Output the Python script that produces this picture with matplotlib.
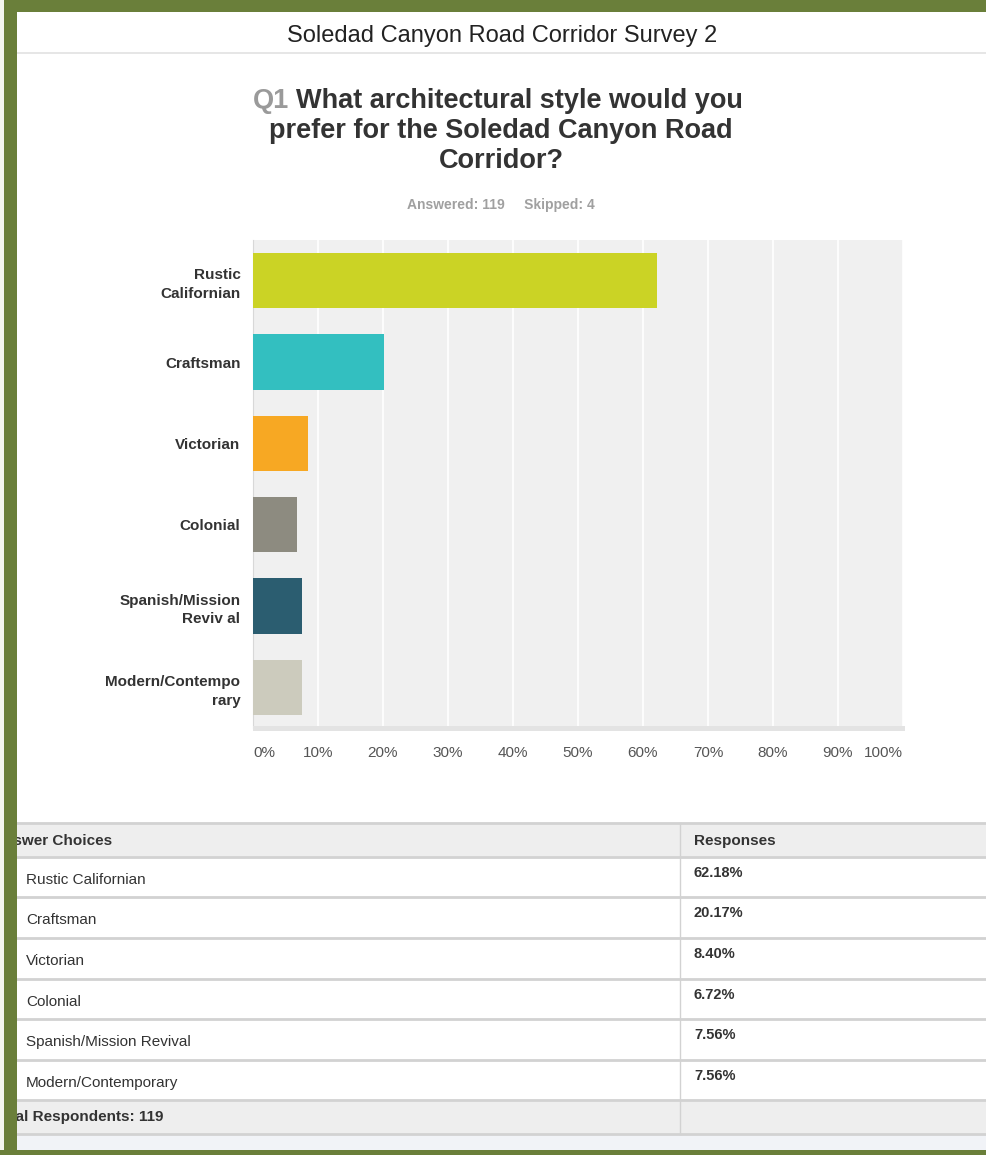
import matplotlib.pyplot as plt
from matplotlib.patches import Rectangle

plt.rcParams['font.family'] = ['Liberation Sans', 'DejaVu Sans']

# data
choices = ['Rustic Californian', 'Craftsman', 'Victorian', 'Colonial',
           'Spanish/Mission Revival', 'Modern/Contemporary']
axis_labels = ['Rustic\nCalifornian', 'Craftsman', 'Victorian', 'Colonial',
               'Spanish/Mission\nReviv al', 'Modern/Contempo\nrary']
percents = [62.18, 20.17, 8.40, 6.72, 7.56, 7.56]
bar_colors = ['#cbd325', '#33bfc0', '#f7a823', '#8d8b80', '#2b5d70', '#cccbbd']
ticks = [0, 10, 20, 30, 40, 50, 60, 70, 80, 90, 100]
answered = 119
skipped = 4

W, H = 987, 1155
fig = plt.figure(figsize=(W / 100, H / 100), dpi=100)
fig.patch.set_facecolor('white')


def fx(px):
    return px / W


def fy(py):
    return 1 - py / H


# bar chart
ax = fig.add_axes([fx(253), fy(728), fx(650), 488 / H])
ax.set_facecolor('#f0f0f0')
ypos = list(range(len(choices)))
ax.barh(ypos, percents, height=0.68, color=bar_colors, zorder=3)
ax.set_ylim(len(choices) - 0.5, -0.5)
ax.set_xlim(0, 100)
ax.set_xticks(ticks)
ax.set_xticklabels(['%d%%' % t for t in ticks], fontsize=11, color='#555555')
labs = ax.get_xticklabels()
labs[0].set_horizontalalignment('left')
labs[-1].set_horizontalalignment('right')
ax.set_yticks(ypos)
ax.set_yticklabels(axis_labels, fontsize=11, fontweight='bold', color='#333333', linespacing=1.45)
ax.tick_params(axis='both', length=0)
ax.tick_params(axis='x', pad=13)
ax.tick_params(axis='y', pad=9)
ax.grid(axis='x', color='white', linewidth=1.2, zorder=1)
for s in ['top', 'right', 'bottom']:
    ax.spines[s].set_visible(False)
ax.spines['left'].set_color('#d8d8d8')
fig.add_artist(Rectangle((fx(253), fy(731)), fx(652), 5 / H, transform=fig.transFigure,
                         facecolor='#e3e3e3', edgecolor='none'))

# header
fig.text(fx(502), fy(36), 'Soledad Canyon Road Corridor Survey 2', ha='center', va='center',
         fontsize=17, color='#222222')
fig.add_artist(Rectangle((fx(17), fy(54)), fx(970), 2 / H, transform=fig.transFigure,
                         facecolor='#e6e6e6', edgecolor='none'))

# question title
tsize = 19.5
q1 = fig.text(fx(253), fy(101), 'Q1', ha='left', va='center', fontsize=tsize,
              fontweight='bold', color='#9a9a9a')
ax.annotate('What architectural style would you', xy=(1, 0.5), xycoords=q1,
            xytext=(5, 0), textcoords='offset points', ha='left', va='center',
            fontsize=tsize, fontweight='bold', color='#333333', annotation_clip=False)
fig.text(fx(501), fy(131), 'prefer for the Soledad Canyon Road', ha='center', va='center',
         fontsize=tsize, fontweight='bold', color='#333333')
fig.text(fx(501), fy(161), 'Corridor?', ha='center', va='center',
         fontsize=tsize, fontweight='bold', color='#333333')
fig.text(fx(501), fy(205), 'Answered: %d     Skipped: %d' % (answered, skipped), ha='center',
         va='center', fontsize=10, fontweight='bold', color='#a0a0a0')

# table
tab_left, tab_right, col_x = 17, 987, 680
row_tops = [823, 857, 897, 938, 979, 1019, 1060, 1100, 1134]
line_c = '#d2d2d2'
fig.add_artist(Rectangle((fx(tab_left), fy(857)), fx(tab_right - tab_left), 34 / H,
                         transform=fig.transFigure, facecolor='#eeeeee', edgecolor='none'))
fig.add_artist(Rectangle((fx(tab_left), fy(1134)), fx(tab_right - tab_left), 34 / H,
                         transform=fig.transFigure, facecolor='#eeeeee', edgecolor='none'))
fig.add_artist(Rectangle((fx(tab_left), fy(1150)), fx(tab_right - tab_left), 16 / H,
                         transform=fig.transFigure, facecolor='#f1f3f7', edgecolor='none'))
for yt in row_tops:
    fig.add_artist(plt.Line2D([fx(tab_left), fx(tab_right)], [fy(yt), fy(yt)],
                              transform=fig.transFigure, color=line_c, linewidth=2))
fig.add_artist(plt.Line2D([fx(col_x), fx(col_x)], [fy(823), fy(1134)],
                          transform=fig.transFigure, color=line_c, linewidth=1))

fig.text(fx(-7), fy(841), 'Answer Choices', ha='left', va='center', fontsize=11,
         fontweight='bold', color='#333333')
fig.text(fx(694), fy(841), 'Responses', ha='left', va='center', fontsize=11,
         fontweight='bold', color='#333333')
for i, (name, p) in enumerate(zip(choices, percents)):
    top = row_tops[i + 1]
    fig.text(fx(26), fy(top + 23), name, ha='left', va='center', fontsize=11, color='#333333')
    fig.text(fx(694), fy(top + 16), '%.2f%%' % p, ha='left', va='center', fontsize=10.5,
             fontweight='bold', color='#333333')
fig.text(fx(-7), fy(1117), 'Total Respondents: %d' % answered, ha='left', va='center',
         fontsize=11, fontweight='bold', color='#333333')

# green frame
green = '#6a7f3a'
fig.add_artist(Rectangle((0, fy(12)), 1, 12 / H, transform=fig.transFigure,
                         facecolor=green, edgecolor='none', zorder=10))
fig.add_artist(Rectangle((fx(4), 0), fx(13), 1, transform=fig.transFigure,
                         facecolor=green, edgecolor='none', zorder=10))
fig.add_artist(Rectangle((0, 0), fx(4), 1, transform=fig.transFigure,
                         facecolor='#f4f6ef', edgecolor='none', zorder=10))
fig.add_artist(Rectangle((0, 0), 1, 5 / H, transform=fig.transFigure,
                         facecolor=green, edgecolor='none', zorder=10))

fig.savefig('out.png', dpi=100)
